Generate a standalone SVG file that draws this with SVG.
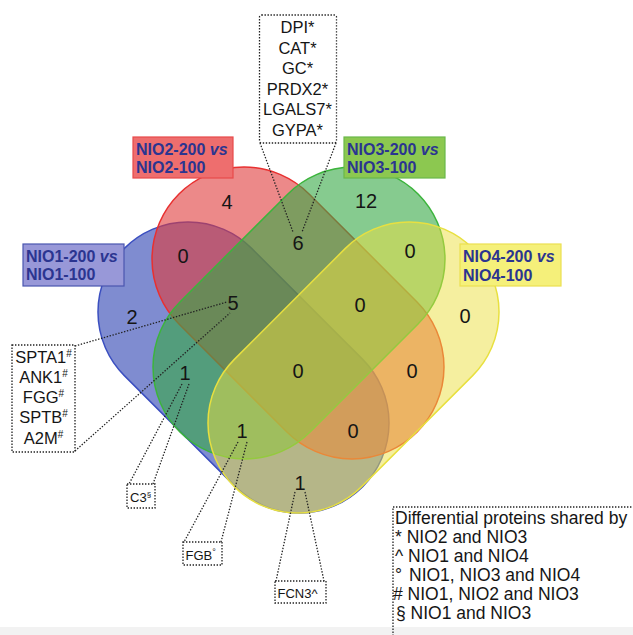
<svg xmlns="http://www.w3.org/2000/svg" width="633" height="635" viewBox="0 0 633 635">
<style>
.num{font-family:"Liberation Sans",Arial,sans-serif;font-size:20px;fill:#151515;text-anchor:middle}
.lbl{font-family:"Liberation Sans",Arial,sans-serif;font-size:16px;font-weight:bold;fill:#2b3590}
.gene{font-family:"Liberation Sans",Arial,sans-serif;font-size:16.5px;fill:#151515;text-anchor:middle}
.small{font-family:"Liberation Sans",Arial,sans-serif;font-size:13px;fill:#151515}
.leg{font-family:"Liberation Sans",Arial,sans-serif;font-size:17.5px;fill:#151515}
.dot{fill:none;stroke:#222;stroke-width:1.3;stroke-dasharray:1.4 1.6}
.sup{font-size:10px}
</style>
<rect width="633" height="635" fill="#ffffff"/>
<rect x="0" y="627" width="633" height="8" fill="#f2f2f2"/>
<g id="venn">
<g id="set-nio1"><rect x="-168.5" y="-90" width="337" height="180" rx="90" transform="translate(243.5 367.5) rotate(45)" fill="#2a40b0" fill-opacity="0.6" stroke="#3b4fc0" stroke-width="1.5"/></g>
<g id="set-nio2"><rect x="-168.35" y="-92" width="336.7" height="184" rx="92" transform="translate(298 313) rotate(45)" fill="#e03a3a" fill-opacity="0.6" stroke="#e83030" stroke-width="1.5"/></g>
<g id="set-nio3"><rect x="-168.35" y="-92" width="336.7" height="184" rx="92" transform="translate(299 313) rotate(-45)" fill="#35a845" fill-opacity="0.6" stroke="#3cb43c" stroke-width="1.5"/></g>
<g id="set-nio4"><rect x="-168.5" y="-90" width="337" height="180" rx="90" transform="translate(353.5 367.5) rotate(-45)" fill="#ece040" fill-opacity="0.5" stroke="#e8e040" stroke-width="1.5"/></g>
</g>
<g id="labels">
<g id="label-nio2"><rect x="133" y="137" width="100" height="41" fill="#ee6e6e" stroke="#e84a4a" stroke-width="1.2"/><text class="lbl" x="136" y="155">NIO2-200 <tspan font-style="italic">vs</tspan></text><text class="lbl" x="136" y="173">NIO2-100</text></g>
<g id="label-nio3"><rect x="344" y="137" width="101" height="41" fill="#8cc850" stroke="#6ab84a" stroke-width="1.2"/><text class="lbl" x="347" y="155">NIO3-200 <tspan font-style="italic">vs</tspan></text><text class="lbl" x="347" y="173">NIO3-100</text></g>
<g id="label-nio4"><rect x="460" y="244" width="101" height="42" fill="#f5f07a" stroke="#ece050" stroke-width="1.2"/><text class="lbl" x="463" y="262">NIO4-200 <tspan font-style="italic">vs</tspan></text><text class="lbl" x="463" y="281">NIO4-100</text></g>
<g id="label-nio1"><rect x="23" y="244" width="101" height="42" fill="#9898d8" stroke="#4a56b0" stroke-width="1.2"/><text class="lbl" x="26" y="262">NIO1-200 <tspan font-style="italic">vs</tspan></text><text class="lbl" x="26" y="280">NIO1-100</text></g>
</g>
<g id="counts">
<text class="num" x="227" y="209">4</text>
<text class="num" x="366" y="208">12</text>
<text class="num" x="183" y="263">0</text>
<text class="num" x="298" y="250">6</text>
<text class="num" x="410" y="258">0</text>
<text class="num" x="132" y="324">2</text>
<text class="num" x="233" y="310">5</text>
<text class="num" x="360" y="312">0</text>
<text class="num" x="465" y="323">0</text>
<text class="num" x="185" y="380">1</text>
<text class="num" x="298" y="378">0</text>
<text class="num" x="412" y="378">0</text>
<text class="num" x="242" y="438">1</text>
<text class="num" x="353" y="438">0</text>
<text class="num" x="300" y="490">1</text>
</g>
<g id="connectors">
<path class="dot" d="M260 143 L293 232 M336 143 L302 232"/>
<path class="dot" d="M75 346 L227 302 M75 451 L230 313"/>
<path class="dot" d="M182 384 L129 484 M189 384 L153 484"/>
<path class="dot" d="M238 442 L184 542 M247 442 L221 542"/>
<path class="dot" d="M295 492 L276 581 M305 492 L324 581"/>
</g>
<g id="box-top">
<rect class="dot" x="259.5" y="15" width="77" height="128" rx="2"/>
<text class="gene" x="297.5" y="33">DPI*</text>
<text class="gene" x="297.5" y="53.5">CAT*</text>
<text class="gene" x="297.5" y="74">GC*</text>
<text class="gene" x="297.5" y="94.5">PRDX2*</text>
<text class="gene" x="297.5" y="115">LGALS7*</text>
<text class="gene" x="297.5" y="135.5">GYPA*</text>
</g>
<g id="box-left">
<rect class="dot" x="12" y="345" width="63" height="107"/>
<text class="gene" x="43.5" y="363">SPTA1<tspan class="sup" dy="-6">#</tspan></text>
<text class="gene" x="43.5" y="383">ANK1<tspan class="sup" dy="-6">#</tspan></text>
<text class="gene" x="43.5" y="403">FGG<tspan class="sup" dy="-6">#</tspan></text>
<text class="gene" x="43.5" y="423">SPTB<tspan class="sup" dy="-6">#</tspan></text>
<text class="gene" x="43.5" y="444">A2M<tspan class="sup" dy="-6">#</tspan></text>
</g>
<g id="box-c3">
<rect class="dot" x="127" y="484" width="28" height="24"/>
<text class="small" x="130" y="502" font-size="12">C3<tspan font-size="8" dy="-5">§</tspan></text>
</g>
<g id="box-fgb">
<rect class="dot" x="183" y="542" width="39" height="23"/>
<text class="small" x="185.5" y="560">FGB<tspan font-size="9" dy="-5">°</tspan></text>
</g>
<g id="box-fcn3">
<rect class="dot" x="275" y="581" width="51" height="22"/>
<text class="small" x="277.5" y="598" font-size="14">FCN3^</text>
</g>
<g id="legend">
<rect class="dot" x="393" y="507" width="250" height="140"/>
<text class="leg" x="395" y="524">Differential proteins shared by</text>
<text class="leg" x="395" y="543">* NIO2 and NIO3</text>
<text class="leg" x="395" y="562">^ NIO1 and NIO4</text>
<text class="leg" x="395" y="581">°<tspan x="409">NIO1, NIO3 and NIO4</tspan></text>
<text class="leg" x="393" y="600"># NIO1, NIO2 and NIO3</text>
<text class="leg" x="396" y="619">§ NIO1 and NIO3</text>
</g>
</svg>
